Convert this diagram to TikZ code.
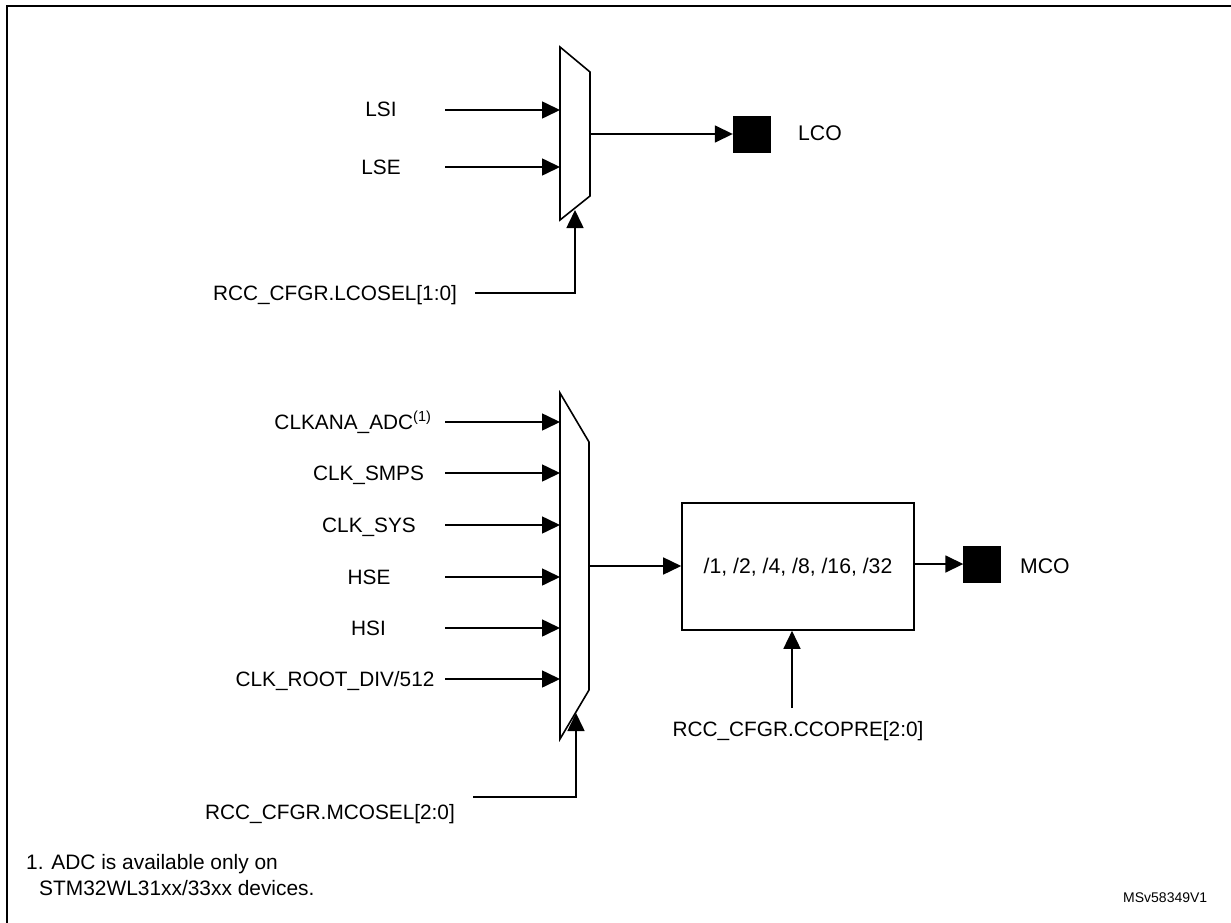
\documentclass[tikz,border=0pt]{standalone}
\usepackage{fontspec}
\setmainfont{Liberation Sans}
\usetikzlibrary{arrows.meta}
\tikzset{
  conn/.style={line width=1.6pt},
  arr/.style={conn,-{Triangle[length=18pt,width=17pt]}},
  lbl/.style={anchor=base,inner sep=0pt,font=\fontsize{20.8}{24}\selectfont},
  muxshape/.style={line width=1.6pt,fill=white,line join=miter},
  pin/.style={draw=black,fill=black,minimum width=37pt,minimum height=36pt,inner sep=0pt},
  divbox/.style={draw=black,line width=1.6pt,minimum width=232pt,minimum height=127pt,inner sep=0pt},
  note/.style={anchor=base west,inner sep=0pt,font=\fontsize{20.9}{24}\selectfont}
}
\begin{document}
\begin{tikzpicture}[x=1pt,y=-1pt]
\useasboundingbox (0,0) rectangle (1231,923);
% frame
\draw[line width=2.8pt] (7,923) -- (7,6) -- (1231,6);

% ---------- LCO section ----------
\draw[muxshape] (560,47) -- (590,72) -- (590,196) -- (560,220) -- cycle;
\coordinate (m1L) at (560,134);
\coordinate (m1R) at (590,134);
\node[lbl] (lsi) at (381,117) {LSI};
\node[lbl] (lse) at (381,174) {LSE};
\coordinate (lsiS) at (445,110);
\coordinate (lseS) at (445,167);
\draw[arr] (lsiS) -- (lsiS -| m1L);
\draw[arr] (lseS) -- (lseS -| m1L);
\node[pin] (lcopin) at (751.5,134) {};
\node[lbl,anchor=base west,font=\fontsize{21.2}{24}\selectfont] (lco) at (798,141) {LCO};
\draw[arr] (m1R) -- (lcopin.west);
\node[lbl] (lcosel) at (335,300) {RCC\_CFGR.LCOSEL[1:0]};
\coordinate (lcoselS) at (475,293);
\coordinate (m1tip) at (575,210);
\draw[arr] (lcoselS) -- (lcoselS -| m1tip) -- (m1tip);

% ---------- MCO section ----------
\draw[muxshape] (560,393) -- (589,442) -- (589,690) -- (560,739) -- cycle;
\coordinate (m2L) at (560,566);
\coordinate (m2R) at (589,566);
\node[lbl] (clkana) at (353,429) {CLKANA\_ADC\textsuperscript{(1)}};
\node[lbl] (smps) at (368.5,480) {CLK\_SMPS};
\node[lbl] (sys) at (369,532) {CLK\_SYS};
\node[lbl] (hse) at (369,584) {HSE};
\node[lbl] (hsi) at (368.5,635) {HSI};
\node[lbl] (root) at (335,686) {CLK\_ROOT\_DIV/512};
\coordinate (s1) at (445,422);
\coordinate (s2) at (445,473);
\coordinate (s3) at (445,525);
\coordinate (s4) at (445,577);
\coordinate (s5) at (445,628);
\coordinate (s6) at (445,679);
\foreach \s in {s1,s2,s3,s4,s5,s6}
  \draw[arr] (\s) -- (\s -| m2L);

\node[divbox] (div) at (798,566.5) {};
\node[lbl,font=\fontsize{21.2}{24}\selectfont] (divtxt) at (798,573) {/1, /2, /4, /8, /16, /32};
\draw[arr] (m2R) -- (div.west |- m2R);
\node[pin] (mcopin) at (982,564) {};
\draw[arr] (div.east |- mcopin) -- (mcopin.west);
\node[lbl,anchor=base west,font=\fontsize{21.2}{24}\selectfont] (mco) at (1020,573) {MCO};

\node[lbl] (ccopre) at (798,736) {RCC\_CFGR.CCOPRE[2:0]};
\coordinate (ccoS) at (792,708);
\draw[arr] (ccoS) -- (ccoS |- div.south);

\node[lbl] (mcosel) at (330,819) {RCC\_CFGR.MCOSEL[2:0]};
\coordinate (mcoselS) at (473,797);
\coordinate (m2tip) at (576,713);
\draw[arr] (mcoselS) -- (mcoselS -| m2tip) -- (m2tip);

% ---------- notes ----------
\node[note] (fn1) at (26,869) {1. ADC is available only on};
\node[note] (fn2) at (39,895) {STM32WL31xx/33xx devices.};
\node[anchor=base west,inner sep=0pt,font=\fontsize{14}{16}\selectfont] (ms) at (1123,902) {MSv58349V1};
\end{tikzpicture}
\end{document}
